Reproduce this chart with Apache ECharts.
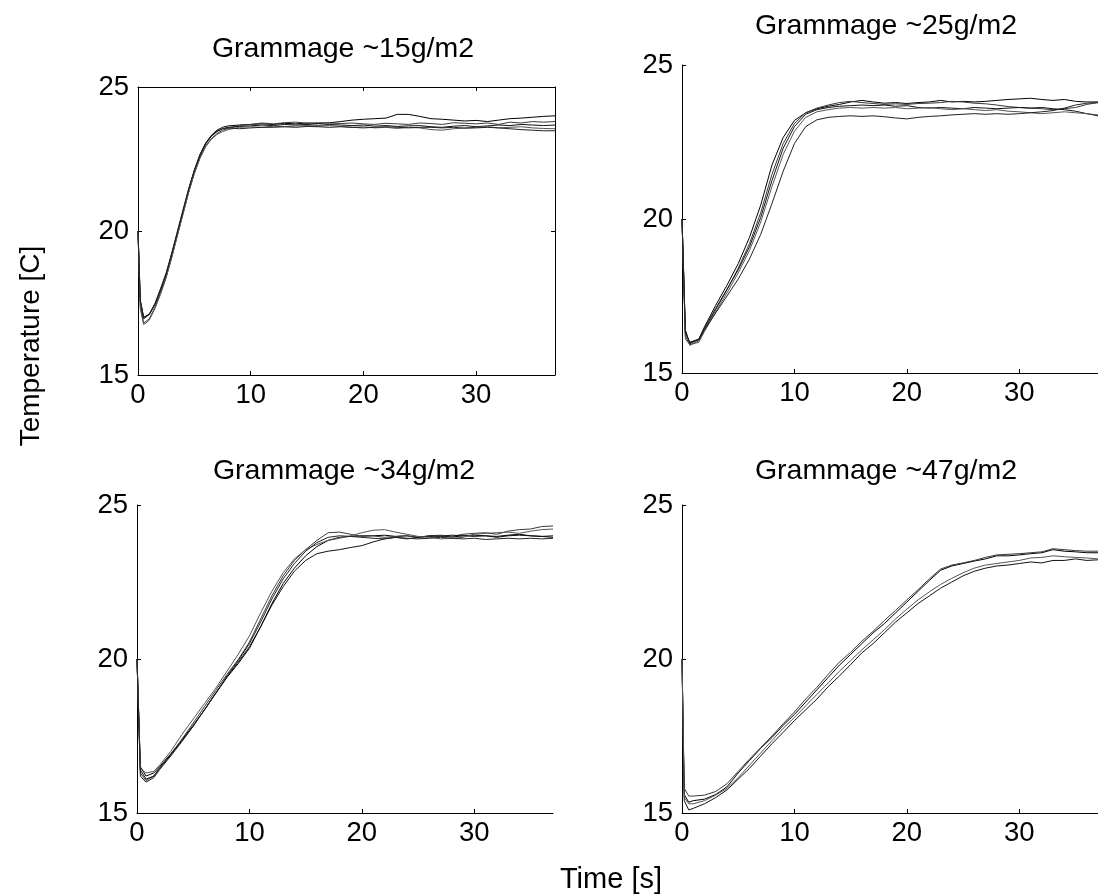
<!DOCTYPE html>
<html>
<head>
<meta charset="utf-8">
<script src="https://cdn.jsdelivr.net/npm/echarts@6/dist/echarts.min.js"></script>
<style>
html,body{margin:0;padding:0;background:#fff;}
#chart{width:1098px;height:895px;}
</style>
</head>
<body>
<div id="chart"></div>
<script>
// ---------- data ----------
const panelTitles = ['Grammage ~15g/m2', 'Grammage ~25g/m2', 'Grammage ~34g/m2', 'Grammage ~47g/m2'];
const xLabel = 'Time [s]';
const yLabel = 'Temperature [C]';
const xRange = [0, 37];
const xStep = 10;
const yRange = [15, 25];
const yStep = 5;

// Panel 1: ~15 g/m2
const t15 = [0,0.2,0.5,1,1.5,2,2.5,3,3.5,4,4.5,5,5.5,6,6.5,7,7.5,8,9,10,11,12,13,14,15,16,17,18,19,20,21,22,23,24,25,26,27,28,29,30,31,32,33,34,35,36,37];
const g15_1 = [20.0,17.6,17.0,17.1,17.45,17.95,18.5,19.2,19.95,20.7,21.45,22.1,22.65,23.05,23.32,23.5,23.6,23.65,
  23.68,23.7,23.72,23.7,23.74,23.72,23.75,23.73,23.76,23.8,23.85,23.88,23.9,23.92,24.05,24.05,23.98,23.9,23.88,23.85,23.82,23.84,23.8,23.85,23.9,23.92,23.95,23.98,24.0];
const g15_2 = [20.0,17.4,16.8,16.95,17.35,17.85,18.4,19.1,19.85,20.6,21.35,22.0,22.55,22.95,23.2,23.38,23.5,23.56,
  23.66,23.7,23.75,23.72,23.76,23.78,23.74,23.76,23.75,23.73,23.75,23.72,23.7,23.74,23.72,23.7,23.75,23.73,23.7,23.76,23.74,23.72,23.75,23.7,23.78,23.75,23.8,23.78,23.8];
const g15_3 = [20.0,17.55,16.95,17.1,17.45,17.95,18.5,19.2,19.92,20.68,21.42,22.08,22.62,23.02,23.28,23.45,23.55,23.6,
  23.63,23.65,23.68,23.66,23.7,23.68,23.7,23.67,23.7,23.68,23.66,23.68,23.64,23.66,23.63,23.65,23.66,23.62,23.6,23.64,23.66,23.62,23.65,23.68,23.66,23.7,23.68,23.66,23.68];
const g15_4 = [20.0,17.3,16.75,16.9,17.3,17.8,18.38,19.08,19.85,20.6,21.35,22.0,22.52,22.92,23.18,23.35,23.45,23.52,
  23.6,23.62,23.6,23.64,23.62,23.65,23.66,23.64,23.66,23.63,23.6,23.62,23.58,23.6,23.56,23.6,23.58,23.52,23.5,23.55,23.58,23.6,23.62,23.58,23.6,23.62,23.58,23.56,23.55];
const g15_5 = [20.0,17.6,17.0,17.12,17.48,18.0,18.55,19.25,20.0,20.75,21.48,22.12,22.66,23.05,23.3,23.46,23.55,23.58,
  23.55,23.58,23.6,23.6,23.62,23.6,23.63,23.62,23.6,23.62,23.6,23.58,23.6,23.62,23.6,23.58,23.6,23.6,23.58,23.6,23.57,23.58,23.6,23.58,23.55,23.52,23.5,23.48,23.48];

// Panel 2: ~25 g/m2
const t25 = [0,0.3,0.7,1.5,2,3,4,5,6,7,8,9,10,11,12,13,14,15,16,17,18,19,20,21,22,23,24,25,26,27,28,29,30,31,32,33,34,35,36,37];
const g25_1 = [20,16.4,15.95,16.1,16.5,17.2,17.85,18.55,19.4,20.45,21.75,22.65,23.2,23.45,23.58,23.66,23.72,
  23.8,23.85,23.8,23.76,23.78,23.75,23.78,23.8,23.85,23.8,23.82,23.8,23.82,23.85,23.88,23.9,23.92,23.88,23.85,23.88,23.82,23.8,23.8];
const g25_2 = [20,16.2,15.9,16.05,16.4,17.05,17.7,18.4,19.2,20.2,21.45,22.45,23.1,23.45,23.6,23.7,23.78,
  23.82,23.78,23.75,23.72,23.74,23.72,23.75,23.76,23.78,23.82,23.8,23.76,23.74,23.7,23.65,23.62,23.6,23.58,23.55,23.58,23.62,23.72,23.78];
const g25_3 = [20,16.3,16.0,16.1,16.45,17.1,17.72,18.35,19.1,20.05,21.25,22.3,23.0,23.4,23.55,23.62,23.66,
  23.68,23.7,23.68,23.7,23.66,23.68,23.62,23.6,23.62,23.6,23.58,23.62,23.6,23.58,23.6,23.62,23.6,23.62,23.58,23.55,23.5,23.42,23.35];
const g25_4 = [20,16.1,15.92,16.0,16.35,16.98,17.6,18.25,18.98,19.9,21.05,22.1,22.85,23.3,23.48,23.55,23.6,
  23.62,23.6,23.62,23.6,23.62,23.58,23.6,23.62,23.58,23.55,23.58,23.55,23.52,23.55,23.5,23.48,23.45,23.42,23.45,23.48,23.45,23.42,23.38];
const g25_5 = [20,16.3,15.98,16.08,16.4,16.95,17.5,18.05,18.7,19.5,20.5,21.55,22.45,23.0,23.22,23.3,23.33,
  23.35,23.33,23.35,23.32,23.28,23.25,23.3,23.33,23.35,23.38,23.4,23.42,23.4,23.42,23.4,23.42,23.45,23.48,23.52,23.6,23.7,23.76,23.78];

// Panel 3: ~34 g/m2
const t34 = [0,0.3,0.8,1.5,2,3,4,5,6,7,8,9,10,11,12,13,14,15,16,17,18,19,20,21,22,23,24,25,26,27,28,29,30,31,32,33,34,35,36,37];
const g34_1 = [20,16.5,16.2,16.3,16.5,16.92,17.38,17.85,18.35,18.88,19.4,19.85,20.35,21.05,21.8,22.45,22.95,
  23.35,23.65,23.85,23.95,23.98,24.0,24.0,24.02,23.98,24.0,23.95,23.98,24.0,23.96,24.0,24.02,24.0,23.98,24.02,24.05,24.0,23.98,23.95];
const g34_2 = [20,16.3,16.05,16.2,16.45,16.9,17.4,17.92,18.45,18.98,19.5,19.98,20.55,21.3,22.05,22.7,23.2,
  23.55,23.85,24.1,24.12,24.05,23.98,24.0,23.95,23.98,24.0,23.95,24.0,24.02,23.98,24.05,24.08,24.1,24.05,24.15,24.2,24.22,24.3,24.32];
const g34_3 = [20,16.4,16.1,16.2,16.45,16.88,17.35,17.82,18.35,18.9,19.42,19.9,20.4,21.05,21.75,22.35,22.85,
  23.2,23.42,23.5,23.55,23.62,23.68,23.8,23.9,23.95,23.9,23.95,24.0,23.98,24.02,24.0,23.98,24.0,23.95,24.0,24.02,24.0,23.98,24.0];
const g34_4 = [20,16.45,16.3,16.35,16.55,17.0,17.55,18.05,18.55,19.05,19.6,20.15,20.75,21.5,22.2,22.8,23.25,
  23.55,23.72,23.85,23.92,24.0,24.1,24.18,24.2,24.12,24.05,23.98,23.95,23.9,23.92,23.95,24.05,24.08,24.1,24.12,24.08,24.15,24.2,24.22];
const g34_5 = [20,16.2,16.0,16.15,16.4,16.85,17.32,17.82,18.35,18.88,19.45,19.95,20.5,21.2,21.95,22.6,23.1,
  23.5,23.78,23.95,24.0,23.98,23.95,23.92,23.9,23.95,23.92,23.9,23.92,23.95,23.92,23.9,23.92,23.88,23.9,23.92,23.9,23.92,23.9,23.92];

// Panel 4: ~47 g/m2
const t47 = [0,0.2,0.6,1,2,3,4,5,6,7,8,9,10,11,12,13,14,15,16,17,18,19,20,21,22,23,24,25,26,27,28,29,30,31,32,33,34,35,36,37];
const g47_1 = [20,15.6,15.35,15.4,15.45,15.6,15.85,16.3,16.7,17.1,17.45,17.85,18.2,18.6,19.0,19.4,19.8,20.15,20.5,20.85,21.15,21.5,21.85,22.2,22.55,22.88,23.02,23.1,23.18,23.25,23.35,23.35,23.38,23.42,23.45,23.55,23.5,23.48,23.45,23.45];
const g47_2 = [20,15.8,15.55,15.55,15.58,15.7,15.95,16.35,16.75,17.12,17.5,17.9,18.28,18.7,19.08,19.5,19.9,20.22,20.58,20.9,21.25,21.58,21.92,22.25,22.6,22.92,23.05,23.12,23.2,23.3,23.38,23.4,23.42,23.45,23.48,23.58,23.55,23.52,23.5,23.5];
const g47_3 = [20,15.4,15.1,15.15,15.3,15.5,15.75,16.1,16.45,16.85,17.25,17.62,18.0,18.35,18.7,19.1,19.45,19.82,20.2,20.5,20.85,21.2,21.5,21.8,22.05,22.3,22.5,22.7,22.85,22.95,23.02,23.05,23.1,23.15,23.12,23.2,23.2,23.25,23.2,23.22];
const g47_4 = [20,15.5,15.3,15.3,15.4,15.58,15.8,16.15,16.55,16.95,17.35,17.75,18.1,18.48,18.85,19.22,19.6,19.95,20.3,20.62,20.95,21.3,21.62,21.92,22.18,22.42,22.62,22.8,22.95,23.05,23.1,23.15,23.2,23.28,23.3,23.35,23.32,23.3,23.28,23.25];

// ---------- chart ----------
const FONT = '"Liberation Sans", Arial, Helvetica, sans-serif';
const panels = [
  { t: t15, lines: [g15_1, g15_2, g15_3, g15_4, g15_5] },
  { t: t25, lines: [g25_1, g25_2, g25_3, g25_4, g25_5] },
  { t: t34, lines: [g34_1, g34_2, g34_3, g34_4, g34_5] },
  { t: t47, lines: [g47_1, g47_2, g47_3, g47_4] }
];
const grids = [
  { left: 138, top: 87, width: 417, height: 288 },
  { left: 682, top: 65, width: 420, height: 308 },
  { left: 137, top: 505, width: 416, height: 308 },
  { left: 682, top: 505, width: 420, height: 308 }
];
const titlePos = [[343, 49], [886, 26], [344, 471], [886, 471]];
const lineColors = ['#000000', '#3a3a3a', '#111111', '#555555', '#222222'];

const axisLineStyle = { color: '#000', width: 1 };
const labelStyle = { fontSize: 27.5, color: '#000', fontFamily: FONT };

const xAxes = grids.map((g, i) => ({
  type: 'value', gridIndex: i, min: xRange[0], max: xRange[1], interval: xStep,
  axisLine: { show: true, onZero: false, lineStyle: axisLineStyle },
  axisTick: { show: true, inside: true, length: 4, lineStyle: axisLineStyle },
  axisLabel: Object.assign({ margin: 6, showMaxLabel: false }, labelStyle),
  splitLine: { show: false }
}));
const yAxes = grids.map((g, i) => ({
  type: 'value', gridIndex: i, min: yRange[0], max: yRange[1], interval: yStep,
  axisLine: { show: true, onZero: false, lineStyle: axisLineStyle },
  axisTick: { show: true, inside: true, length: 4, lineStyle: axisLineStyle },
  axisLabel: Object.assign({ margin: 9 }, labelStyle),
  splitLine: { show: false }
}));
// box for first panel
xAxes.push({
  type: 'value', gridIndex: 0, position: 'top', min: xRange[0], max: xRange[1], interval: xStep,
  axisLine: { show: true, onZero: false, lineStyle: axisLineStyle },
  axisTick: { show: true, inside: true, length: 4, lineStyle: axisLineStyle },
  axisLabel: { show: false }, splitLine: { show: false }
});
yAxes.push({
  type: 'value', gridIndex: 0, position: 'right', min: yRange[0], max: yRange[1], interval: yStep,
  axisLine: { show: true, onZero: false, lineStyle: axisLineStyle },
  axisTick: { show: true, inside: true, length: 4, lineStyle: axisLineStyle },
  axisLabel: { show: false }, splitLine: { show: false }
});

const series = [];
panels.forEach((p, i) => {
  p.lines.forEach((vals, k) => {
    series.push({
      type: 'line', xAxisIndex: i, yAxisIndex: i,
      data: p.t.map((tt, j) => [tt, vals[j]]),
      showSymbol: false, symbol: 'none', smooth: false, silent: true,
      lineStyle: { color: lineColors[k % lineColors.length], width: 1 }
    });
  });
});

const graphics = panelTitles.map((txt, i) => ({
  type: 'text', x: titlePos[i][0], y: titlePos[i][1],
  style: { text: txt, fontSize: 28.5, fontFamily: FONT, fill: '#000', align: 'center', verticalAlign: 'middle' }
}));
graphics.push({
  type: 'text', x: 31, y: 346, rotation: Math.PI / 2,
  style: { text: yLabel, fontSize: 28, fontFamily: FONT, fill: '#000', align: 'center', verticalAlign: 'middle' }
});
graphics.push({
  type: 'text', x: 611, y: 880,
  style: { text: xLabel, fontSize: 29, fontFamily: FONT, fill: '#000', align: 'center', verticalAlign: 'middle' }
});

const chart = echarts.init(document.getElementById('chart'), null, { renderer: 'canvas' });
chart.setOption({
  animation: false,
  backgroundColor: '#fff',
  grid: grids,
  xAxis: xAxes,
  yAxis: yAxes,
  series: series,
  graphic: graphics
});
</script>
</body>
</html>
